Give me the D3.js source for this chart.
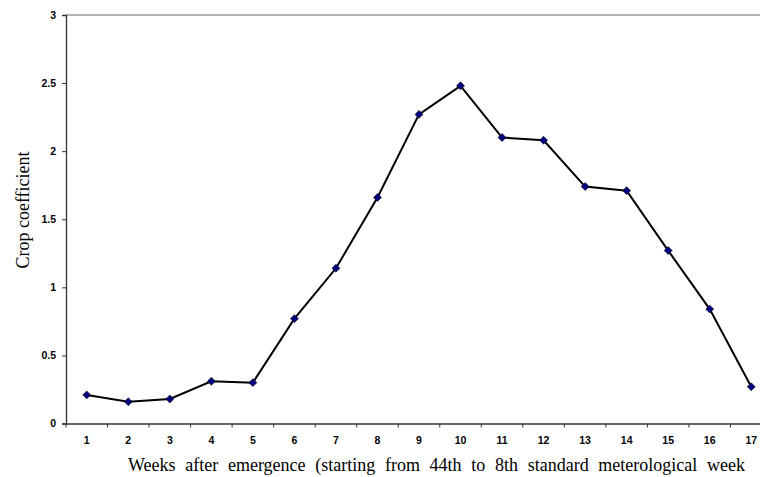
<!DOCTYPE html>
<html>
<head>
<meta charset="utf-8">
<script src="https://cdn.jsdelivr.net/npm/d3@7"></script>
<style>
  body { margin: 0; background: #fff; }
  svg { display: block; }
</style>
</head>
<body>
<svg id="chart"></svg>
<script>
// Crop coefficient by week after emergence
let weeks = ['1','2','3','4','5','6','7','8','9','10','11','12','13','14','15','16','17'];
let cropCoef = [0.21, 0.16, 0.18, 0.31, 0.30, 0.77, 1.14, 1.66, 2.27, 2.48, 2.10, 2.08, 1.74, 1.71, 1.27, 0.84, 0.27];
let yTicks = [0, 0.5, 1, 1.5, 2, 2.5, 3];

let width = 760;
let height = 477;
let serif = '"Liberation Serif", "Times New Roman", serif';
let sans = '"Liberation Sans", Arial, sans-serif';

let svg = d3.select('#chart')
    .attr('width', width)
    .attr('height', height);

// plot area runs off the right edge, like the original
let plotLeft = 66, plotRight = 772, plotTop = 15, plotBottom = 423.5;

let x = d3.scaleBand()
    .domain(weeks)
    .range([plotLeft, plotRight]);

let y = d3.scaleLinear()
    .domain([0, 3])
    .range([plotBottom, plotTop]);

// gray top border of the plot area
svg.append('line')
    .attr('x1', plotLeft).attr('x2', width)
    .attr('y1', plotTop).attr('y2', plotTop)
    .attr('stroke', '#999').attr('stroke-width', 1.5);

// y axis
let yAxis = svg.append('g')
    .attr('transform', `translate(${plotLeft},0)`)
    .call(d3.axisLeft(y).tickValues(yTicks).tickSize(4).tickPadding(6).tickFormat(d3.format('')));
yAxis.select('.domain').attr('stroke', '#333').attr('stroke-width', 1.3);
yAxis.selectAll('.tick line').attr('stroke', '#333');
yAxis.selectAll('text')
    .style('font-family', sans).style('font-size', '10.5px').style('font-weight', 'bold')
    .attr('fill', '#000');

// x axis, ticks on category boundaries
let xAxis = svg.append('g')
    .attr('transform', `translate(0,${plotBottom})`)
    .call(d3.axisBottom(x).tickSize(0).tickPadding(13));
xAxis.select('.domain').attr('stroke', '#333').attr('stroke-width', 1.3);
xAxis.selectAll('text')
    .style('font-family', sans).style('font-size', '10.5px').style('font-weight', 'bold')
    .attr('fill', '#000');
xAxis.selectAll('.boundary')
    .data(weeks)
    .enter().append('line')
    .attr('x1', d => x(d)).attr('x2', d => x(d))
    .attr('y1', 0).attr('y2', 4)
    .attr('stroke', '#333');

// line
let line = d3.line()
    .x((d, i) => x(weeks[i]) + x.bandwidth() / 2)
    .y(d => y(d));

svg.append('path')
    .datum(cropCoef)
    .attr('d', line)
    .attr('fill', 'none')
    .attr('stroke', '#000')
    .attr('stroke-width', 2);

// diamond markers
let diamond = d3.symbol().type(d3.symbolDiamond2).size(40);
svg.selectAll('.marker')
    .data(cropCoef)
    .enter().append('path')
    .attr('class', 'marker')
    .attr('d', diamond)
    .attr('transform', (d, i) => `translate(${x(weeks[i]) + x.bandwidth() / 2},${y(d)})`)
    .attr('fill', '#000080')
    .attr('stroke', '#000')
    .attr('stroke-width', 0.6);

// axis titles
svg.append('text')
    .attr('transform', 'translate(29,210) rotate(-90)')
    .attr('text-anchor', 'middle')
    .style('font-family', serif).style('font-size', '18px')
    .text('Crop coefficient');

let xTitle = svg.append('text')
    .attr('x', 128)
    .attr('y', 471)
    .style('font-family', serif).style('font-size', '18px')
    .text('Weeks after emergence (starting from 44th to 8th standard meterological week');

// the original title is spread out a little with wider word gaps
let targetWidth = 617;
let gaps = 10;
let natural = xTitle.node().getComputedTextLength();
xTitle.style('word-spacing', Math.max(0, (targetWidth - natural) / gaps) + 'px');
</script>
</body>
</html>
